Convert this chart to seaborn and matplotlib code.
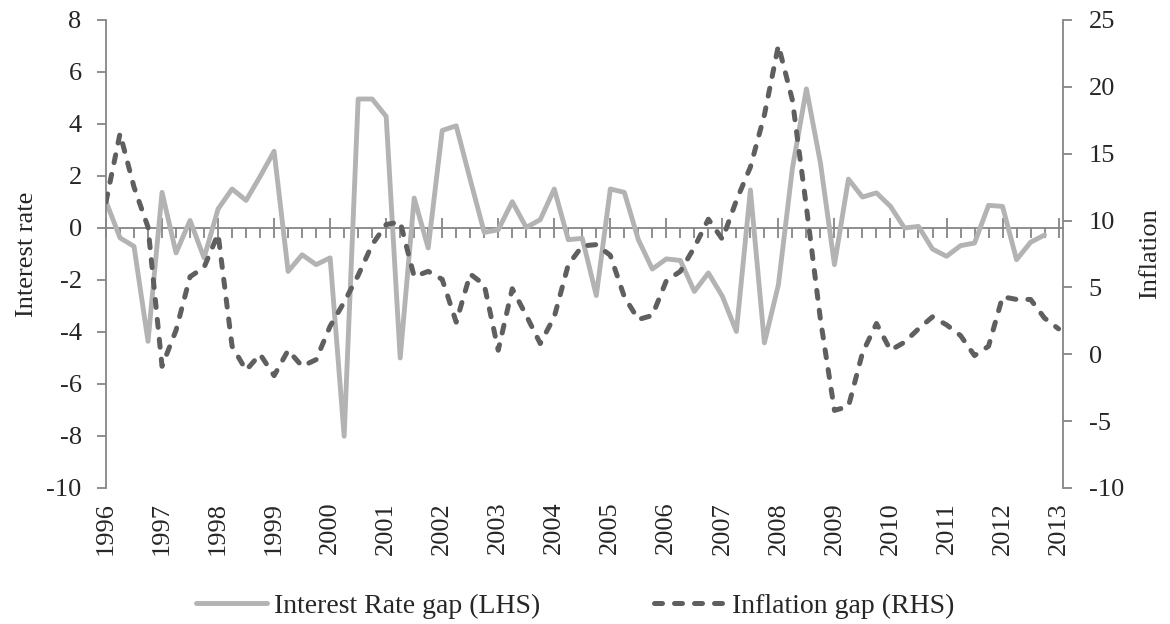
import numpy as np
import pandas as pd
import seaborn as sns
import matplotlib.pyplot as plt

# quarterly gaps, 1996Q1 onwards
interest_gap = [1.02, -0.38, -0.71, -4.36, 1.37, -0.96, 0.29, -1.15,
                0.73, 1.50, 1.06, 1.98, 2.95, -1.67, -1.03, -1.41,
                -1.15, -8.01, 4.96, 4.96, 4.29, -5.00, 1.15, -0.77,
                3.75, 3.93, 1.86, -0.17, -0.07, 1.01, 0.02, 0.32,
                1.50, -0.45, -0.40, -2.60, 1.50, 1.37, -0.45, -1.58,
                -1.19, -1.25, -2.44, -1.73, -2.63, -3.98, 1.46, -4.42,
                -2.18, 2.30, 5.35, 2.50, -1.41, 1.88, 1.19, 1.35,
                0.83, 0.00, 0.06, -0.81, -1.09, -0.68, -0.58, 0.87,
                0.83, -1.22, -0.55, -0.27]
inflation_gap = [11.4, 16.5, 12.5, 9.5, -0.9, 1.8, 5.8, 6.5,
                 9.0, 0.6, -1.2, 0.0, -1.6, 0.3, -0.9, -0.4,
                 2.1, 3.9, 5.9, 8.2, 9.7, 9.9, 5.8, 6.2,
                 5.6, 2.4, 6.0, 5.2, 0.3, 4.9, 2.9, 0.8,
                 2.8, 6.7, 8.1, 8.2, 7.4, 4.3, 2.6, 2.9,
                 5.5, 6.2, 8.0, 10.1, 8.6, 11.5, 14.0, 17.9,
                 23.1, 19.0, 11.0, 2.6, -4.2, -3.9, 0.1, 2.3,
                 0.3, 0.9, 1.9, 2.8, 2.2, 1.4, -0.1, 0.6,
                 4.3, 4.1, 4.1, 2.7, 1.9]
years = list(range(1996, 2014))

df_int = pd.DataFrame({'t': 1996 + np.arange(len(interest_gap)) / 4, 'gap': interest_gap})
df_inf = pd.DataFrame({'t': 1996 + np.arange(len(inflation_gap)) / 4, 'gap': inflation_gap})

sns.set_style('white')
plt.rcParams['font.family'] = ['Liberation Serif', 'DejaVu Serif']
plt.rcParams['axes.unicode_minus'] = False
fs = 19

axis_grey = '#868686'
fig = plt.figure(figsize=(11.7, 6.24), dpi=100)
ax = fig.add_axes([0.0906, 0.218, 0.818, 0.75])
ax2 = ax.twinx()

sns.lineplot(data=df_int, x='t', y='gap', ax=ax, color='#b3b3b3', linewidth=3.5,
             label='Interest Rate gap (LHS)', legend=False)
sns.lineplot(data=df_inf, x='t', y='gap', ax=ax2, color='#5f5f5f', linewidth=3.6,
             label='Inflation gap (RHS)', legend=False)
ax2.lines[0].set_dashes((1.6, 2.4))
ax2.lines[0].set_dash_capstyle('round')

ax.set_xlim(1996, 2013.08)
ax.set_ylim(-10, 8)
ax2.set_ylim(-10, 25)
ax.set_yticks(range(-10, 9, 2))
ax2.set_yticks(range(-10, 26, 5))

# year labels along the bottom, rotated
ax.set_xticks(years)
ax.set_xticklabels([str(y) for y in years], rotation=90)
ax.tick_params(axis='x', length=0, pad=10, labelsize=fs)
ax.set_xlabel('')

# horizontal axis line drawn at zero with tick marks
zero_pos = (0 - (-10)) / (8 - (-10))
sec = ax.secondary_xaxis(zero_pos)
sec.set_alignment('bottom')
sec.set_xticks(years)
sec.set_xticks(1996 + np.arange(69) / 4, minor=True)
sec.tick_params(axis='x', which='major', direction='inout', length=15, width=1.3,
                color=axis_grey)
sec.tick_params(axis='x', which='minor', direction='out', length=7, width=1.3,
                color=axis_grey)
sec.tick_params(axis='x', which='both', labelbottom=False, labeltop=False)
sec.spines['bottom'].set_color(axis_grey)
sec.spines['bottom'].set_linewidth(1.3)

for s in ['top', 'bottom', 'right']:
    ax.spines[s].set_visible(False)
for s in ['top', 'bottom', 'left']:
    ax2.spines[s].set_visible(False)
ax.spines['left'].set_color(axis_grey)
ax.spines['left'].set_linewidth(1.3)
ax2.spines['right'].set_color(axis_grey)
ax2.spines['right'].set_linewidth(1.3)

ax.tick_params(axis='y', direction='out', length=6.5, width=1.3, color=axis_grey,
               pad=11, labelsize=fs, left=True)
ax2.tick_params(axis='y', direction='out', length=6.5, width=1.3, color=axis_grey,
                pad=12, labelsize=fs, right=True)

ax.set_ylabel('Interest rate', fontsize=fs, va='center')
ax2.set_ylabel('Inflation', fontsize=fs, va='center')
ax.yaxis.set_label_coords(-0.083, 0.5)
ax2.yaxis.set_label_coords(1.0909, 0.5)

handles = ax.lines[:1] + ax2.lines[:1]
fig.legend(handles, [h.get_label() for h in handles], loc='center',
           bbox_to_anchor=(0.4915, 0.029), ncol=2, frameon=False, fontsize=20,
           handlelength=2.55, handletextpad=0.25, columnspacing=4.1,
           borderpad=0, borderaxespad=0)

fig.savefig('out.png', dpi=100)
